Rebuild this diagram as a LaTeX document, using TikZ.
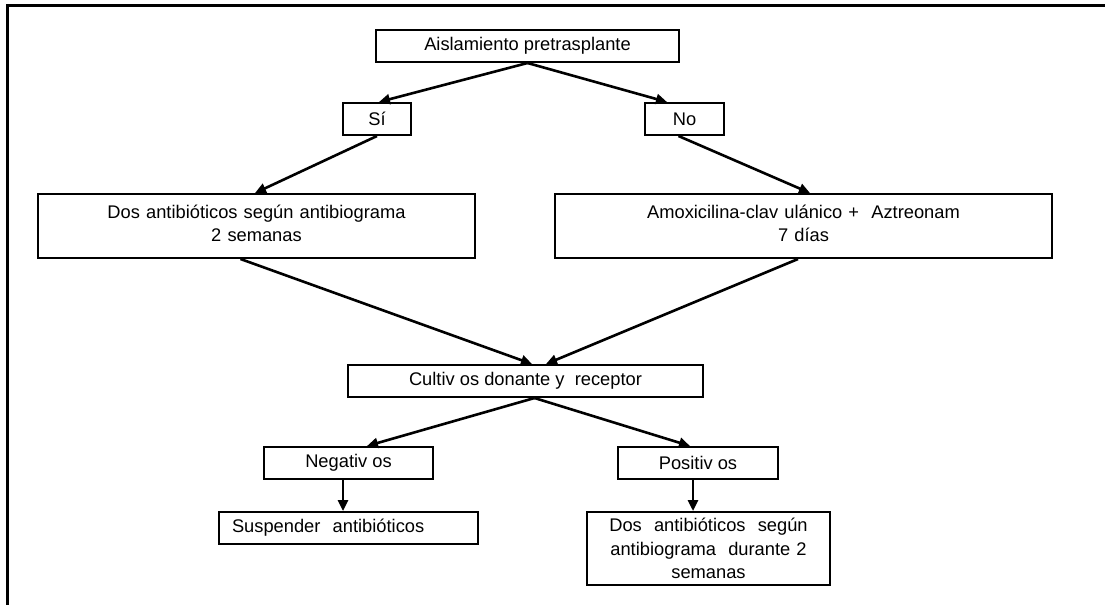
\documentclass[tikz,border=0pt]{standalone}
\usepackage{fontspec}
\setmainfont{Liberation Sans}
\usetikzlibrary{arrows.meta,calc}
\begin{document}
\begin{tikzpicture}[x=1pt,y=-1pt,
  box/.style={draw,line width=2pt,rectangle,inner sep=0pt,align=center,
    font=\fontsize{18.3}{23.5}\selectfont},
  arr/.style={line width=2.6pt,-{Triangle[length=11pt,width=10pt]}}]
\path[use as bounding box,fill=white] (0,0) rectangle (1105,605);
\draw[line width=2.6pt] (1105,5.5) -- (7.5,5.5) -- (7.5,605);
\node[box,minimum width=303pt,minimum height=32pt] (top) at (527.5,46) {Aislamiento pretrasplante};
\node[box,minimum width=68pt,minimum height=32pt] (si) at (377,119) {Sí};
\node[box,minimum width=79pt,minimum height=32pt] (no) at (684.5,119) {No};
\node[box,minimum width=437pt,minimum height=64pt,text width=437pt,anchor=north] (lbig) at (256.5,193) {\\[-15pt]Dos antibióticos según antibiograma\\2 semanas};
\node[box,minimum width=497pt,minimum height=64pt,text width=497pt,anchor=north] (rbig) at (803.5,193) {\\[-15pt]Amoxicilina-clav ulánico +\ \ Aztreonam\\7 días};
\node[box,minimum width=355pt,minimum height=32pt] (cult) at (525.5,381) {Cultiv os donante y\ \ receptor};
\node[box,minimum width=169pt,minimum height=32pt] (neg) at (348.5,463) {Negativ os};
\node[box,minimum width=160pt,minimum height=32pt] (pos) at (698,463) {Positiv os};
\node[box,minimum width=259pt,minimum height=32pt,text width=233pt,align=left] (susp) at (348.5,528) {Suspender\ \ antibióticos};
\node[box,minimum width=243pt,minimum height=73pt,text width=243pt] (dos) at (708.5,548.5) {Dos\ \ antibióticos\ \ según\\antibiograma\ \ durante 2\\semanas};
\draw[arr] (top.south) -- ($(si.north)+(2,0)$);
\draw[arr] (top.south) -- ($(no.north)+(-17.5,0)$);
\draw[arr] (si.south) -- ($(lbig.north)+(-1.5,0)$);
\draw[arr] ($(no.south)+(-6,0)$) -- ($(rbig.north)+(6.5,0)$);
\draw[arr] ($(lbig.south)+(-16,0)$) -- ($(cult.north)+(6.5,0)$);
\draw[arr] ($(rbig.south)+(-5.5,0)$) -- ($(cult.north)+(20.5,0)$);
\draw[arr] ($(cult.south)+(9,0)$) -- ($(neg.north)+(18.5,0)$);
\draw[arr] ($(cult.south)+(9,0)$) -- ($(pos.north)+(-8,0)$);
\coordinate (na) at ($(neg.south)+(-5.5,0)$);
\draw[arr] (na) -- (na |- susp.north);
\coordinate (pa) at ($(pos.south)+(-5,0)$);
\draw[arr] (pa) -- (pa |- dos.north);
\end{tikzpicture}
\end{document}
